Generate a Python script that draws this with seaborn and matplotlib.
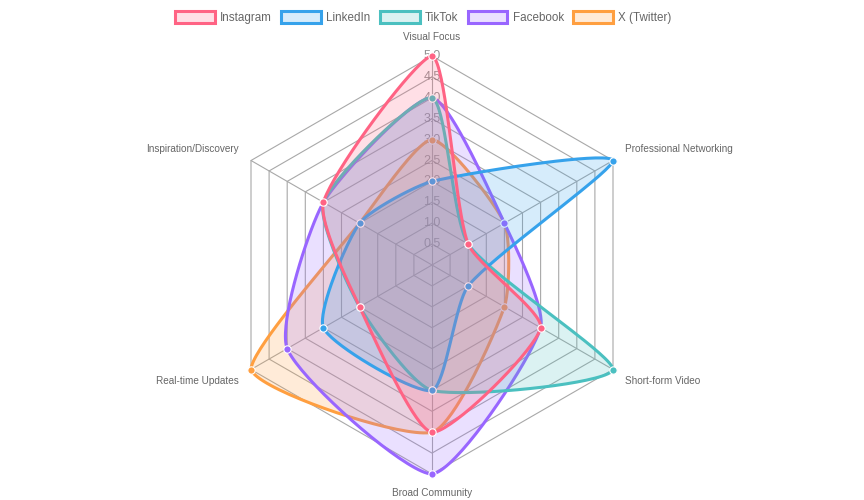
import matplotlib

matplotlib.use("Agg")

import matplotlib.pyplot as plt
import numpy as np
import pandas as pd
import seaborn as sns
from matplotlib.patches import Patch

# axis categories, clockwise from the top
categories = [
    "Visual Focus",
    "Professional Networking",
    "Short-form Video",
    "Broad Community",
    "Real-time Updates",
    "Inspiration/Discovery",
]
platforms = ["Instagram", "LinkedIn", "TikTok", "Facebook", "X (Twitter)"]
instagram = [5, 1, 3, 4, 2, 3]
linkedin = [2, 5, 1, 3, 3, 2]
tiktok = [4, 1, 5, 3, 2, 3]
facebook = [4, 2, 3, 5, 4, 3]
x_twitter = [3, 2, 2, 4, 5, 2]
tick_values = [0.5, 1.0, 1.5, 2.0, 2.5, 3.0, 3.5, 4.0, 4.5, 5.0]

colors = ["#ff6384", "#36a2eb", "#4bc0c0", "#9966ff", "#ff9f40"]
series = [instagram, linkedin, tiktok, facebook, x_twitter]

W, H = 864, 500
CX, CY, R = 432, 265, 209
VMAX = 5.0
TENSION = 0.2
GRID = "#a8a8a8"
TEXT = "#666666"


def to_xy(values, n):
    angles = -np.pi / 2 + np.arange(n) * 2 * np.pi / n
    r = np.asarray(values, dtype=float) / VMAX * R
    return CX + r * np.cos(angles), CY + r * np.sin(angles)


def spline_closed(xs, ys, tension, box, steps=40):
    # closed cardinal spline, control points kept inside the scale box
    pts = np.column_stack([xs, ys])
    n = len(pts)
    lo = np.array([box[0], box[2]])
    hi = np.array([box[1], box[3]])
    prev_cp, next_cp = [], []
    for i in range(n):
        p0, p1, p2 = pts[i - 1], pts[i], pts[(i + 1) % n]
        d01 = np.hypot(*(p1 - p0))
        d12 = np.hypot(*(p2 - p1))
        tot = d01 + d12 if d01 + d12 else 1.0
        fa = tension * d01 / tot
        fb = tension * d12 / tot
        prev_cp.append(np.clip(p1 - fa * (p2 - p0), lo, hi))
        next_cp.append(np.clip(p1 + fb * (p2 - p0), lo, hi))
    t = np.linspace(0, 1, steps)[:, None]
    out = []
    for i in range(n):
        a, b = pts[i], next_cp[i]
        c, d = prev_cp[(i + 1) % n], pts[(i + 1) % n]
        seg = (1 - t) ** 3 * a + 3 * (1 - t) ** 2 * t * b + 3 * (1 - t) * t ** 2 * c + t ** 3 * d
        out.append(seg if i == 0 else seg[1:])
    return np.vstack(out)


sns.set_theme(style="white")
plt.rcParams["font.family"] = ["Liberation Sans", "DejaVu Sans"]

fig = plt.figure(figsize=(W / 100, H / 100), dpi=100)
ax = fig.add_axes([0, 0, 1, 1])
ax.set_xlim(0, W)
ax.set_ylim(H, 0)
ax.set_aspect("equal")
ax.axis("off")

n = len(categories)

# hexagon grid rings
for tv in tick_values:
    gx, gy = to_xy([tv] * n, n)
    ax.plot(np.append(gx, gx[0]), np.append(gy, gy[0]), color=GRID, lw=0.8, zorder=1)

# angle lines and point labels
ox, oy = to_xy([VMAX] * n, n)
box = (ox.min(), ox.max(), oy.min(), oy.max())
for i, name in enumerate(categories):
    ax.plot([CX, ox[i]], [CY, oy[i]], color=GRID, lw=0.8, zorder=1)
label_pos = [
    (CX, oy[0] - 19, "center"),
    (ox[1] + 12, oy[1] - 12, "left"),
    (ox[2] + 12, oy[2] + 11, "left"),
    (CX, oy[3] + 19, "center"),
    (ox[4] - 12, oy[4] + 11, "right"),
    (ox[5] - 12, oy[5] - 12, "right"),
]
for (tx, ty, ha), name in zip(label_pos, categories):
    ax.text(tx, ty, name, ha=ha, va="center", fontsize=7.2, color=TEXT)

# radial tick labels
for tv in tick_values:
    _, ty = to_xy([tv] + [0] * (n - 1), n)
    ax.text(CX, ty[0], f"{tv:.1f}", ha="center", va="center", fontsize=9,
            color="#808080", alpha=0.85, zorder=2)

# datasets, last one drawn first so Instagram sits on top
for k in reversed(range(len(series))):
    xs, ys = to_xy(series[k], n)
    curve = spline_closed(xs, ys, TENSION, box)
    base = 10 + (len(series) - k) * 3
    ax.fill(curve[:, 0], curve[:, 1], color=colors[k], alpha=0.2, lw=0, zorder=base)
    df = pd.DataFrame({"x": curve[:, 0], "y": curve[:, 1]})
    sns.lineplot(data=df, x="x", y="y", sort=False, estimator=None, color=colors[k],
                 lw=2.2, ax=ax, zorder=base + 1)
    pts = pd.DataFrame({"x": xs, "y": ys})
    sns.scatterplot(data=pts, x="x", y="y", color=colors[k], s=28, edgecolor="white",
                    linewidth=0.8, ax=ax, zorder=base + 2)

ax.set_xlim(0, W)
ax.set_ylim(H, 0)
ax.set_xlabel("")
ax.set_ylabel("")

handles = [
    Patch(facecolor=matplotlib.colors.to_rgba(c, 0.2), edgecolor=c, lw=2.2, label=p)
    for c, p in zip(colors, platforms)
]
fig.legend(handles=handles, loc="upper center", bbox_to_anchor=(0.49, 0.998), ncol=5,
           frameon=False, fontsize=8.4, handlelength=3.4, handleheight=1.1,
           handletextpad=0.45, columnspacing=0.8, labelcolor=TEXT)

fig.savefig("out.png", dpi=100)
